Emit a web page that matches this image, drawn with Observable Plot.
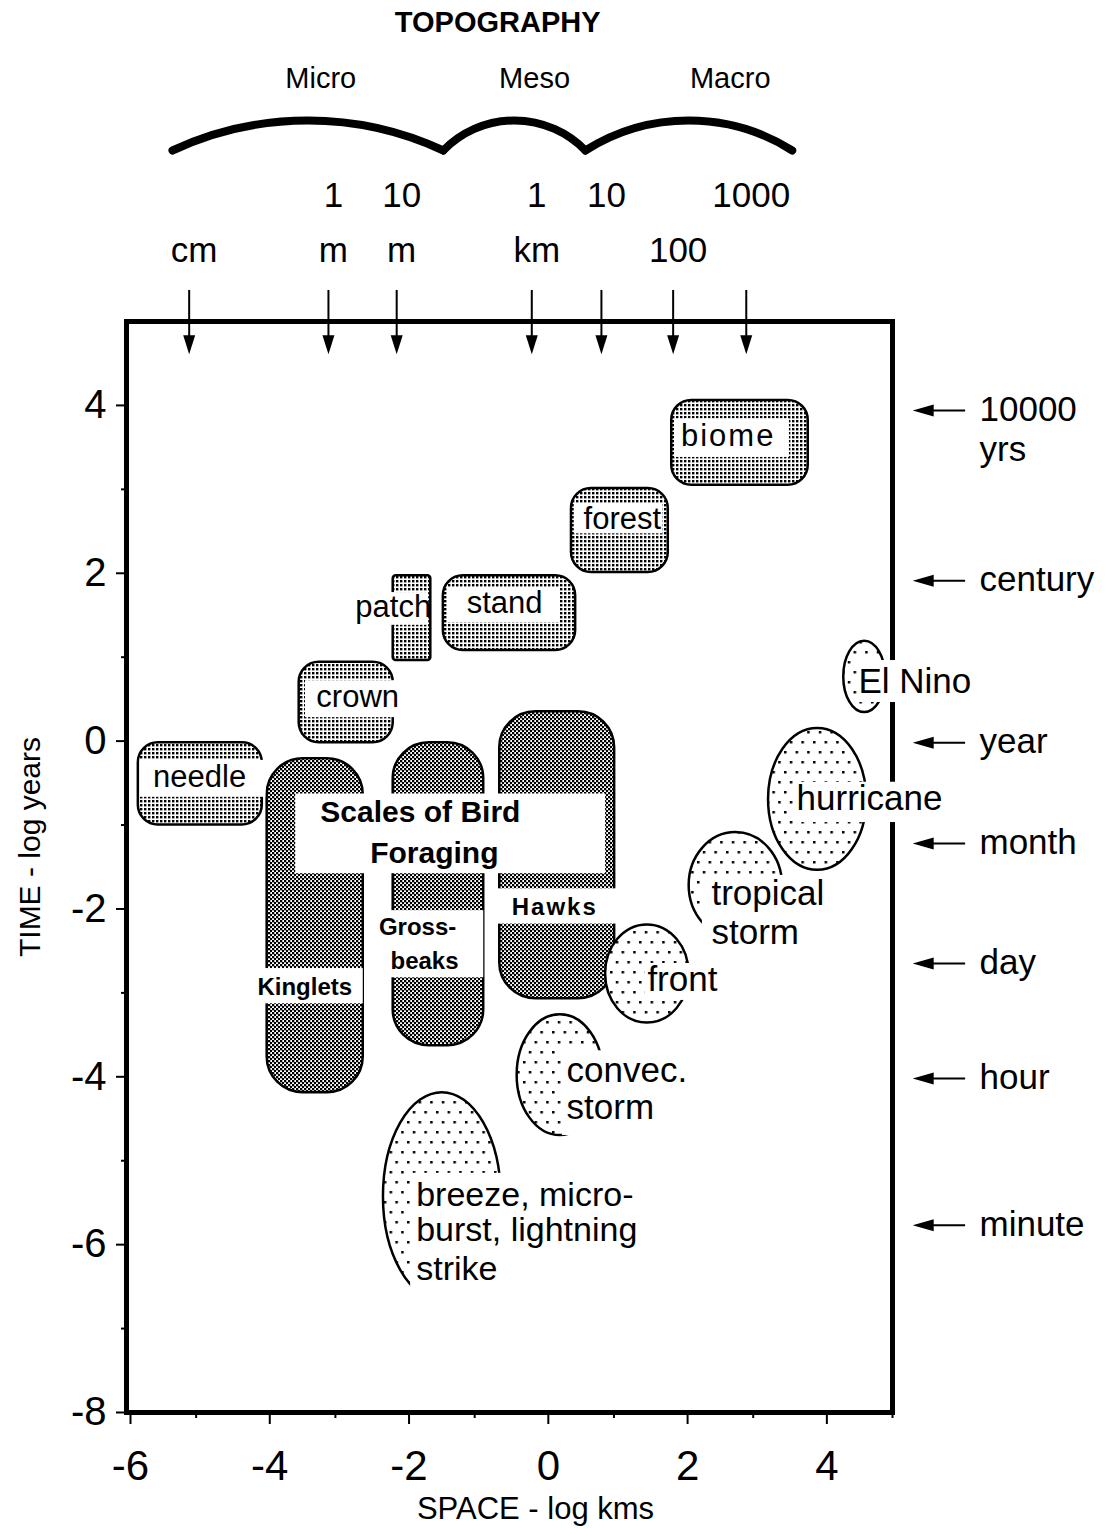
<!DOCTYPE html>
<html>
<head>
<meta charset="utf-8">
<script src="https://cdn.jsdelivr.net/npm/d3@7"></script>
<script src="https://cdn.jsdelivr.net/npm/@observablehq/plot@0.6"></script>
<style>
  html, body { margin: 0; padding: 0; background: #fff; }
  #chart svg { display: block; }
</style>
</head>
<body>
<div id="chart"></div>
<script>
// ---------- DATA (x: log km, y: log years) ----------
const xDomain = [-6, 5];
const yDomain = [-8, 5];
const xTicks = [-6, -4, -2, 0, 2, 4];
const xMinorTicks = [-5, -3, -1, 1, 3, 5];
const yTicks = [-8, -6, -4, -2, 0, 2, 4];
const yMinorTicks = [-7, -5, -3, -1, 1, 3];

// vegetation scales (stippled boxes)
const habitats = [
  {name: "needle", x1: -5.83, x2: -4.05, y1: -1.00, y2: -0.02},
  {name: "crown",  x1: -3.52, x2: -2.17, y1: -0.02, y2: 0.94},
  {name: "stand",  x1: -1.45, x2: 0.45,  y1: 1.08,  y2: 1.97},
  {name: "forest", x1: 0.39,  x2: 1.78,  y1: 2.01,  y2: 3.01},
  {name: "biome",  x1: 1.83,  x2: 3.79,  y1: 3.05,  y2: 4.06}
];
const patches = [
  {name: "patch", x1: -2.17, x2: -1.63, y1: 0.96, y2: 1.97}
];
// bird foraging scales (checkered boxes)
const birds = [
  {name: "Kinglets",   x1: -3.98, x2: -2.60, y1: -4.19, y2: -0.21},
  {name: "Grossbeaks", x1: -2.17, x2: -0.87, y1: -3.63, y2: -0.02},
  {name: "Hawks",      x1: -0.64, x2: 1.01,  y1: -3.07, y2: 0.35}
];
// atmospheric phenomena (dotted ellipses)
const weather = [
  {name: "El Nino",        x1: 4.30,  x2: 4.90,  y1: 0.34,  y2: 1.19},
  {name: "hurricane",      x1: 3.22,  x2: 4.63,  y1: -1.54, y2: 0.15},
  {name: "tropical storm", x1: 2.08,  x2: 3.42,  y1: -2.35, y2: -1.09},
  {name: "front",          x1: 0.88,  x2: 2.08,  y1: -3.36, y2: -2.19},
  {name: "convec. storm",  x1: -0.39, x2: 0.85,  y1: -4.70, y2: -3.26},
  {name: "breeze",         x1: -2.31, x2: -0.62, y1: -6.67, y2: -4.19}
];
// white label panels
const labelBoxes = [
  {x1: 1.87, x2: 3.52, y1: 3.38, y2: 3.84},
  {x1: 0.43, x2: 1.70, y1: 2.47, y2: 2.82},
  {x1: -1.39, x2: 0.23, y1: 1.41, y2: 1.83},
  {x1: -2.68, x2: -1.66, y1: 1.38, y2: 1.77},
  {x1: -3.43, x2: -2.11, y1: 0.28, y2: 0.72},
  {x1: -5.80, x2: -4.00, y1: -0.67, y2: -0.23},
  {x1: -3.57, x2: 0.88, y1: -1.58, y2: -0.63},
  {x1: -0.66, x2: 1.05, y1: -2.18, y2: -1.76},
  {x1: -2.40, x2: -0.87, y1: -2.82, y2: -2.02},
  {x1: -4.18, x2: -2.60, y1: -3.13, y2: -2.71},
  {x1: 4.51, x2: 6.12, y1: 0.46, y2: 0.96},
  {x1: 3.58, x2: 5.79, y1: -0.97, y2: -0.49},
  {x1: 2.27, x2: 4.11, y1: -2.44, y2: -1.60},
  {x1: 1.45, x2: 2.56, y1: -3.09, y2: -2.65},
  {x1: 0.26, x2: 2.10, y1: -4.70, y2: -3.69},
  {x1: -1.92, x2: 1.57, y1: -6.73, y2: -5.15}
];
const habitatLabels = [
  {text: "needle", x: -4.95, y: -0.43},
  {text: "crown",  x: -2.68, y: 0.52},
  {text: "patch",  x: -2.17, y: 1.60},
  {text: "stand",  x: -0.57, y: 1.65},
  {text: "forest", x: 1.12,  y: 2.64},
  {text: "biome",  x: 2.64,  y: 3.63}
];
const titleLabels = [
  {text: "Scales of Bird", x: -1.78, y: -0.85},
  {text: "Foraging",       x: -1.58, y: -1.34}
];
const birdLabels = [
  {text: "Hawks",    x: 0.15,  y: -1.98},
  {text: "Gross-",   x: -1.82, y: -2.22},
  {text: "beaks",    x: -1.72, y: -2.62},
  {text: "Kinglets", x: -3.44, y: -2.93}
];
const weatherLabelsCentered = [
  {text: "El Nino",   x: 5.32, y: 0.71},
  {text: "hurricane", x: 4.67, y: -0.69}
];
const weatherLabelsLeft = [
  {text: "tropical",  x: 2.40,  y: -1.82},
  {text: "storm",     x: 2.40,  y: -2.28},
  {text: "front",     x: 1.48,  y: -2.85},
  {text: "convec.",   x: 0.32,  y: -3.93},
  {text: "storm",     x: 0.32,  y: -4.37}
];
const breezeLabels = [
  {text: "breeze, micro-",   x: -1.84, y: -5.41},
  {text: "burst, lightning", x: -1.84, y: -5.83},
  {text: "strike",           x: -1.84, y: -6.29}
];
// space reference marks along the top
const spaceMarks = [
  {x: -5.10, upper: "",     lower: "cm"},
  {x: -3.10, upper: "1",    lower: "m"},
  {x: -2.12, upper: "10",   lower: "m"},
  {x: -0.18, upper: "1",    lower: "km"},
  {x: 0.82,  upper: "10",   lower: ""},
  {x: 1.85,  upper: "",     lower: "100"},
  {x: 2.90,  upper: "1000", lower: ""}
];
// time reference marks on the right
const timeMarks = [
  {y: 3.94,  label: "10000\nyrs"},
  {y: 1.91,  label: "century"},
  {y: -0.02, label: "year"},
  {y: -1.22, label: "month"},
  {y: -2.65, label: "day"},
  {y: -4.02, label: "hour"},
  {y: -5.77, label: "minute"}
];
// topographic scale braces
const topoScales = [
  {name: "Micro", x1: -5.34, x2: -1.45, labelX: -3.21},
  {name: "Meso",  x1: -1.45, x2: 0.59,  labelX: -0.14},
  {name: "Macro", x1: 0.59,  x2: 3.56,  labelX: 2.67}
];
const topoTitle = "TOPOGRAPHY";
const xTitle = "SPACE - log kms";
const yTitle = "TIME - log years";

// ---------- CHART ----------
const W = 1116, H = 1529;
const mL = 126, mR = 224, mT = 321, mB = 117;
const pxPerX = (W - mL - mR) / (xDomain[1] - xDomain[0]);
const braceRise = 30;
const braceY = yDomain[1] + 171 / ((H - mT - mB) / (yDomain[1] - yDomain[0]));

const downHead = {draw(ctx) { ctx.moveTo(-6, -19); ctx.lineTo(6, -19); ctx.lineTo(0, 0); ctx.closePath(); }};
const leftHead = {draw(ctx) { ctx.moveTo(0, 0); ctx.lineTo(21, -6); ctx.lineTo(21, 6); ctx.closePath(); }};
const fmt = d => (d < 0 ? "-" + Math.abs(d) : String(d));
const font = "'Liberation Sans', Arial, Helvetica, sans-serif";

const braceMarks = topoScales.map(d => {
  const chord = (d.x2 - d.x1) * pxPerX;
  const bend = 2 * Math.atan(2 * braceRise / chord) * 180 / Math.PI;
  return Plot.arrow([d], {x1: "x1", x2: "x2", y1: braceY, y2: braceY, bend, headLength: 0,
    stroke: "black", strokeWidth: 8});
});

const svg = Plot.plot({
  width: W, height: H,
  marginLeft: mL, marginRight: mR, marginTop: mT, marginBottom: mB,
  style: {fontFamily: font, background: "white", color: "black", overflow: "visible"},
  x: {domain: xDomain},
  y: {domain: yDomain},
  marks: [
    Plot.rect(habitats, {x1: "x1", x2: "x2", y1: "y1", y2: "y2", rx: 20, fill: "url(#stipple)", stroke: "black", strokeWidth: 2.5}),
    Plot.rect(patches, {x1: "x1", x2: "x2", y1: "y1", y2: "y2", rx: 3, fill: "url(#stipple)", stroke: "black", strokeWidth: 2.5}),
    Plot.rect(birds, {x1: "x1", x2: "x2", y1: "y1", y2: "y2", rx: 36, fill: "url(#checker)", stroke: "black", strokeWidth: 2.5}),
    Plot.rect(weather, {x1: "x1", x2: "x2", y1: "y1", y2: "y2", rx: 9999, ry: 9999, fill: "url(#dots)", stroke: "black", strokeWidth: 2.5}),
    Plot.frame({stroke: "black", strokeWidth: 5}),
    Plot.rect(labelBoxes, {x1: "x1", x2: "x2", y1: "y1", y2: "y2", fill: "white"}),
    Plot.text(habitatLabels, {x: "x", y: "y", text: "text", fontSize: 31}),
    Plot.text(titleLabels, {x: "x", y: "y", text: "text", fontSize: 30, fontWeight: "bold"}),
    Plot.text(birdLabels, {x: "x", y: "y", text: "text", fontSize: 24, fontWeight: "bold"}),
    Plot.text(weatherLabelsCentered, {x: "x", y: "y", text: "text", fontSize: 35}),
    Plot.text(weatherLabelsLeft, {x: "x", y: "y", text: "text", fontSize: 35, textAnchor: "start"}),
    Plot.text(breezeLabels, {x: "x", y: "y", text: "text", fontSize: 34, textAnchor: "start"}),
    // axes
    Plot.axisX({ticks: xTicks, tickSize: 12, tickPadding: 26, fontSize: 42, dx: 4, tickFormat: fmt, strokeWidth: 2, label: null}),
    Plot.axisX({ticks: xMinorTicks, tickSize: 6, tickFormat: () => "", strokeWidth: 2, label: null}),
    Plot.axisY({ticks: yTicks, tickSize: 10, tickPadding: 10, fontSize: 40, tickFormat: fmt, strokeWidth: 2, label: null}),
    Plot.axisY({ticks: yMinorTicks, tickSize: 5, tickFormat: () => "", strokeWidth: 2, label: null}),
    Plot.text([xTitle], {frameAnchor: "bottom", lineAnchor: "middle", dx: 26, dy: 97, fontSize: 31}),
    Plot.text([yTitle], {frameAnchor: "left", textAnchor: "middle", lineAnchor: "middle", rotate: -90, dx: -96, dy: -20, fontSize: 30}),
    // space reference arrows
    Plot.ruleX(spaceMarks, {x: "x", y1: 5.37, y2: 4.75, stroke: "black", strokeWidth: 2}),
    Plot.dot(spaceMarks, {x: "x", y: 4.61, symbol: downHead, fill: "black", stroke: "none"}),
    Plot.text(spaceMarks, {x: "x", text: "upper", frameAnchor: "top", lineAnchor: "middle", dx: 5, dy: -126, fontSize: 35}),
    Plot.text(spaceMarks, {x: "x", text: "lower", frameAnchor: "top", lineAnchor: "middle", dx: 5, dy: -71, fontSize: 35}),
    // time reference arrows
    Plot.ruleY(timeMarks, {y: "y", x1: 5.45, x2: 6.05, stroke: "black", strokeWidth: 2}),
    Plot.dot(timeMarks, {x: 5.29, y: "y", symbol: leftHead, fill: "black", stroke: "none"}),
    Plot.text(timeMarks, {y: "y", text: "label", frameAnchor: "right", dx: 87, dy: -18, lineAnchor: "top", lineHeight: 1.15, textAnchor: "start", fontSize: 35}),
    // topography braces
    ...braceMarks,
    Plot.text(topoScales, {x: "labelX", text: "name", frameAnchor: "top", lineAnchor: "middle", dy: -243, fontSize: 29}),
    Plot.text([topoTitle], {x: -0.67, frameAnchor: "top", lineAnchor: "middle", dy: -299, fontSize: 29, fontWeight: "bold"})
  ]
});

// patterns
const defs = d3.select(svg).insert("defs", ":first-child");
const stipple = defs.append("pattern").attr("id", "stipple").attr("patternUnits", "userSpaceOnUse").attr("width", 4).attr("height", 4);
stipple.append("rect").attr("width", 4).attr("height", 4).attr("fill", "white");
stipple.append("rect").attr("width", 2.4).attr("height", 2.4).attr("fill", "black");
const checker = defs.append("pattern").attr("id", "checker").attr("patternUnits", "userSpaceOnUse").attr("width", 4).attr("height", 4);
checker.append("rect").attr("width", 4).attr("height", 4).attr("fill", "white");
checker.append("rect").attr("width", 2.3).attr("height", 2.3).attr("fill", "black");
checker.append("rect").attr("x", 2).attr("y", 2).attr("width", 2.3).attr("height", 2.3).attr("fill", "black");
const dots = defs.append("pattern").attr("id", "dots").attr("patternUnits", "userSpaceOnUse").attr("width", 11.6).attr("height", 20);
dots.append("rect").attr("width", 11.6).attr("height", 20).attr("fill", "white");
dots.append("rect").attr("x", 1).attr("y", 1).attr("width", 2.5).attr("height", 2.5).attr("fill", "black");
dots.append("rect").attr("x", 6.8).attr("y", 11).attr("width", 2.5).attr("height", 2.5).attr("fill", "black");

// letter spacing as in the original
d3.select(svg).selectAll("text").filter(function() { return this.textContent === "biome" || this.textContent === "Hawks"; })
  .attr("letter-spacing", 2);

document.getElementById("chart").appendChild(svg);
</script>
</body>
</html>
